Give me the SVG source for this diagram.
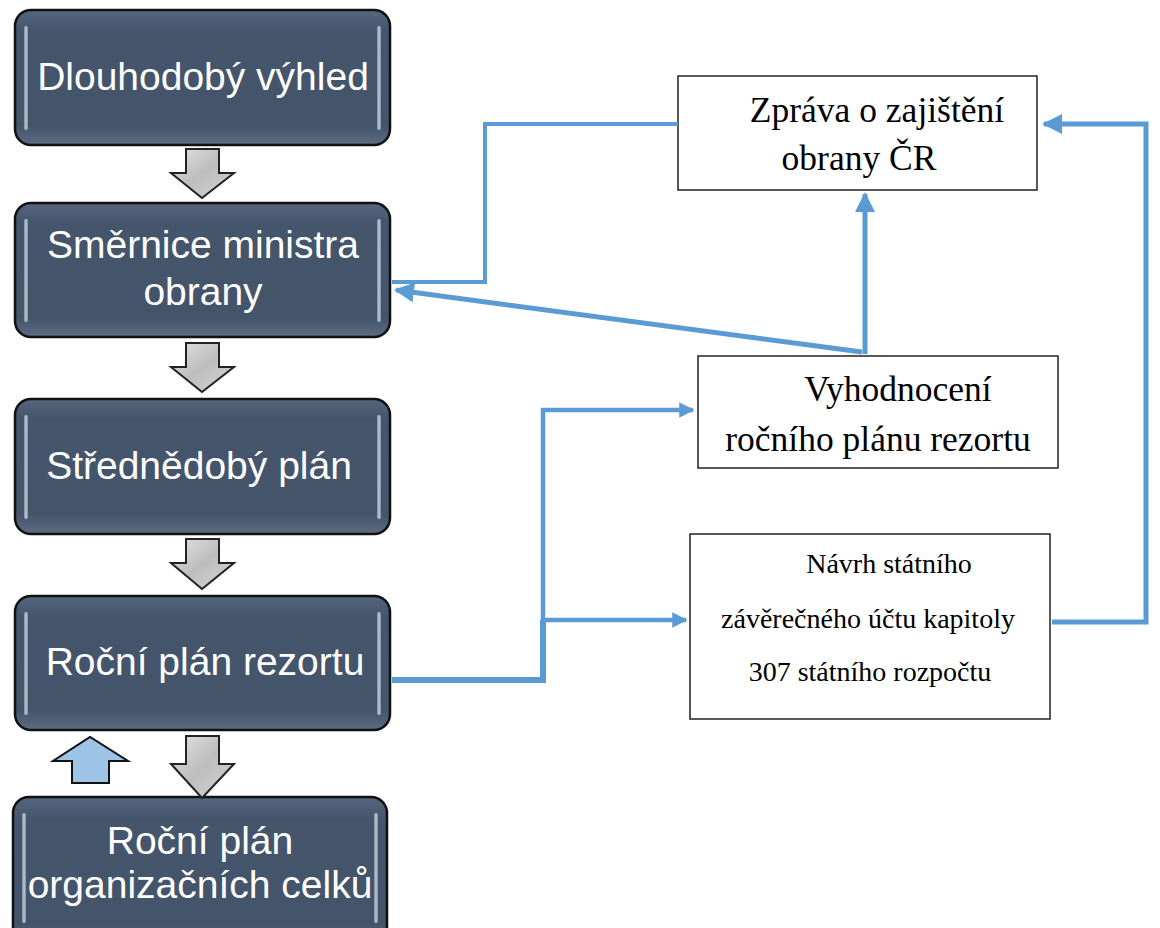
<svg xmlns="http://www.w3.org/2000/svg" width="1160" height="928" viewBox="0 0 1160 928">
<defs>
<linearGradient id="boxg" x1="0" y1="0" x2="0" y2="1">
<stop offset="0" stop-color="#56667e"/>
<stop offset="0.15" stop-color="#45556c"/>
<stop offset="0.85" stop-color="#44546a"/>
<stop offset="1" stop-color="#5d6c82"/>
</linearGradient>
<linearGradient id="gloss" x1="0" y1="0" x2="1" y2="0">
<stop offset="0" stop-color="#8a9ab0"/>
<stop offset="0.5" stop-color="#dfe6f0"/>
<stop offset="1" stop-color="#8a9ab0"/>
</linearGradient>
<linearGradient id="grayg" x1="0" y1="0" x2="1" y2="1">
<stop offset="0" stop-color="#e4e4e4"/>
<stop offset="0.5" stop-color="#bdbdbd"/>
<stop offset="1" stop-color="#d6d6d6"/>
</linearGradient>
<marker id="ah" viewBox="0 0 10 10" refX="9" refY="5" markerWidth="4" markerHeight="4" markerUnits="strokeWidth" orient="auto">
<path d="M0,0 L10,5 L0,10 z" fill="#5b9bd5"/>
</marker>
<marker id="ah2" viewBox="0 0 10 10" refX="9" refY="5" markerWidth="3.4" markerHeight="3.4" markerUnits="strokeWidth" orient="auto">
<path d="M0,0 L10,5 L0,10 z" fill="#5b9bd5"/>
</marker>
</defs>
<style>
.box{fill:url(#boxg);stroke:#111;stroke-width:2.5}
.gl{fill:url(#gloss);opacity:0.8}
.bt{font-family:"Liberation Sans",Arial,sans-serif;font-size:39px;fill:#fff;text-anchor:middle}
.rb{fill:#fff;stroke:#222;stroke-width:1.5}
.st{font-family:"Liberation Serif","Times New Roman",serif;font-size:35.5px;fill:#000;text-anchor:middle}
.st2{font-family:"Liberation Serif","Times New Roman",serif;font-size:28px;fill:#000;text-anchor:middle}
.ga{fill:url(#grayg);stroke:#222;stroke-width:2;stroke-linejoin:miter}
.con{fill:none;stroke:#5b9bd5;stroke-linejoin:miter}
</style>
<rect width="1160" height="928" fill="#fff"/>

<g id="n-dlouhodoby">
<rect class="box" x="15" y="10" width="375" height="135" rx="16"/>
<rect class="gl" x="24" y="26" width="4" height="104" rx="2"/>
<rect class="gl" x="377" y="26" width="4" height="104" rx="2"/>
<text class="bt" x="203" y="90">Dlouhodobý výhled</text>
</g>

<g id="n-smernice">
<rect class="box" x="15" y="203" width="375" height="134" rx="16"/>
<rect class="gl" x="24" y="219" width="4" height="103" rx="2"/>
<rect class="gl" x="377" y="219" width="4" height="103" rx="2"/>
<text class="bt" x="203" y="258">Směrnice ministra</text>
<text class="bt" x="203" y="305">obrany</text>
</g>

<g id="n-strednedoby">
<rect class="box" x="15" y="399" width="375" height="135" rx="16"/>
<rect class="gl" x="24" y="415" width="4" height="104" rx="2"/>
<rect class="gl" x="377" y="415" width="4" height="104" rx="2"/>
<text class="bt" x="199" y="479">Střednědobý plán</text>
</g>

<g id="n-rocni-rezort">
<rect class="box" x="15" y="596" width="375" height="134" rx="16"/>
<rect class="gl" x="24" y="612" width="4" height="103" rx="2"/>
<rect class="gl" x="377" y="612" width="4" height="103" rx="2"/>
<text class="bt" x="205" y="675">Roční plán rezortu</text>
</g>

<g id="n-rocni-celky">
<rect class="box" x="13" y="797" width="374" height="150" rx="16"/>
<rect class="gl" x="22" y="813" width="4" height="110" rx="2"/>
<rect class="gl" x="374" y="813" width="4" height="110" rx="2"/>
<text class="bt" x="200" y="854">Roční plán</text>
<text class="bt" x="200" y="898">organizačních celků</text>
</g>

<g id="flow-arrows">
<path class="ga" d="M186,149 H219 V173 H234 L202,198 L171,173 H186 Z"/>
<path class="ga" d="M186,343 H219 V367 H234 L202,392 L171,367 H186 Z"/>
<path class="ga" d="M186,539 H219 V563 H234 L202,589 L171,563 H186 Z"/>
<path class="ga" d="M186,736 H219 V764 H234 L202,798 L171,764 H186 Z"/>
<path d="M72,783 V761 H53 L90,737 L128,761 H109 V783 Z" fill="#9dc3e6" stroke="#111" stroke-width="2"/>
</g>

<g id="n-zprava">
<rect class="rb" x="678" y="76" width="359" height="114"/>
<text class="st" x="877" y="122">Zpráva o zajištění</text>
<text class="st" x="859" y="170">obrany ČR</text>
</g>

<g id="n-vyhodnoceni">
<rect class="rb" x="698" y="356" width="360" height="112"/>
<text class="st" x="898" y="401">Vyhodnocení</text>
<text class="st" x="878" y="451">ročního plánu rezortu</text>
</g>

<g id="n-navrh">
<rect class="rb" x="690" y="534" width="360" height="185"/>
<text class="st2" x="889" y="573">Návrh státního</text>
<text class="st2" x="868" y="628">závěrečného účtu kapitoly</text>
<text class="st2" x="870" y="681">307 státního rozpočtu</text>
</g>

<g id="connectors">
<polyline class="con" stroke-width="4" points="678,124 485,124 485,282 392,282"/>
<line class="con" stroke-width="5" x1="862" y1="352" x2="396" y2="290" marker-end="url(#ah)"/>
<line class="con" stroke-width="5" x1="865" y1="354" x2="865" y2="194" marker-end="url(#ah)"/>
<polyline class="con" stroke-width="6" points="392,680 543,680 543,620"/>
<polyline class="con" stroke-width="4.5" points="543,622 543,410 693,410" marker-end="url(#ah2)"/>
<polyline class="con" stroke-width="4.5" points="543,620 686,620" marker-end="url(#ah2)"/>
<polyline class="con" stroke-width="5" points="1052,622 1146,622 1146,124 1044,124" marker-end="url(#ah)"/>
</g>
</svg>
